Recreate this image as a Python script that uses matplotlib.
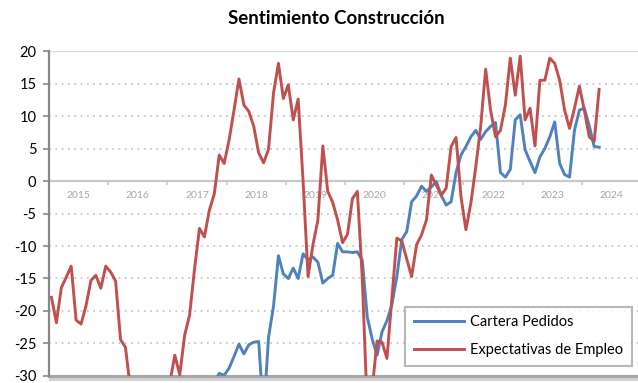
import matplotlib
matplotlib.use("Agg")
import matplotlib.pyplot as plt
import matplotlib.patheffects as pe
import numpy as np

plt.rcParams['font.family'] = ['Lato', 'DejaVu Sans']

# monthly series, first value = Jan 2015 (expectativas) / Oct 2017 (cartera)
expectativas = [
    -17.9, -21.8, -16.4, -14.8, -13.1, -21.4, -22.0, -19.2, -15.3, -14.5, -16.5, -13.1,
    -14.0, -15.4, -24.4, -25.6, -32.0, -35.0, -38.0, -40.0, -39.0, -37.0, -35.0, -33.0,
    -31.0, -26.8, -29.8, -23.7, -20.6, -13.5, -7.3, -8.6, -4.5, -2.0, 4.0, 2.7,
    6.3, 10.9, 15.7, 11.7, 10.7, 8.4, 4.3, 2.8, 4.9, 13.5, 18.1, 12.7,
    14.8, 9.4, 12.6, 0.0, -14.7, -9.8, -6.0, 5.4, -1.6, -3.3, -6.0, -9.5,
    -8.2, -2.7, -1.6, -15.0, -35.0, -32.0, -24.6, -24.8, -27.3, -18.0, -8.8, -9.2,
    -12.0, -14.7, -9.8, -8.3, -6.0, 0.9, -0.6, -2.2, -1.1, 5.3, 6.7, -2.4,
    -7.5, -3.4, 2.2, 8.4, 17.2, 10.9, 6.8, 7.8, 11.7, 18.9, 13.2, 19.2,
    9.4, 11.2, 5.4, 15.5, 15.5, 18.9, 18.1, 15.5, 10.9, 8.1, 11.2, 14.6,
    10.9, 6.8, 6.1, 14.1,
]
cartera = [
    -31.0, -29.6, -29.9, -28.8, -27.0, -25.1, -26.6, -25.2, -24.8, -24.7, -36.0, -24.0,
    -19.3, -11.5, -14.3, -15.0, -13.4, -15.0, -11.2, -12.1, -11.7, -12.5, -15.7, -15.0,
    -14.5, -9.6, -10.9, -10.9, -11.0, -10.9, -12.2, -20.9, -24.3, -26.8, -23.2, -21.5,
    -19.0, -14.7, -9.0, -7.8, -3.2, -2.3, -0.8, -1.6, -0.9, -0.1, -2.2, -3.7,
    -3.2, 1.3, 4.0, 5.3, 6.8, 7.8, 6.4, 7.6, 8.4, 9.0, 1.3, 0.6,
    1.8, 9.4, 10.2, 4.8, 3.0, 1.3, 3.7, 5.0, 6.8, 9.1, 2.7, 1.0,
    0.6, 7.8, 10.9, 11.2, 8.5, 5.3, 5.2,
]
cartera_offset = 33  # months after Jan 2015

years = list(range(2015, 2025))
y_ticks = list(range(-30, 25, 5))

blue = '#4F81BD'
red = '#C0504D'


def month_pos(n, offset=0):
    return 2015 + (np.arange(n) + offset + 0.5) / 12


fig = plt.figure(figsize=(6.38, 3.83), dpi=100)
ax = fig.add_axes([0.0768, 0.0183, 0.928, 0.8485])

ax.set_xlim(2015, 2025)
ax.set_ylim(-30, 20)

# dotted gridlines
for v in y_ticks:
    if v in (-30, 0):
        continue
    if v == 20:
        ax.axhline(v, color='#d9d9d9', lw=1.6, zorder=1)
    else:
        ax.axhline(v, color='#c8c8c8', lw=1.3, ls=(0, (1, 2.5)), zorder=1)

# bottom border with a soft shadow
ax.axhline(-30, color='#a6a6a6', lw=2.2, zorder=1, clip_on=False,
           path_effects=[pe.SimpleLineShadow(offset=(1, -2.5), shadow_color='gray', alpha=0.35),
                         pe.Normal()])

# zero line carries the year axis
for s in ('top', 'right'):
    ax.spines[s].set_visible(False)
ax.spines['bottom'].set_position(('data', 0))
ax.spines['bottom'].set_color('#c8c8c8')
ax.spines['bottom'].set_linewidth(1.6)
ax.spines['bottom'].set_zorder(1)
ax.spines['left'].set_color('#888888')
ax.spines['left'].set_linewidth(1.6)

ax.set_xticks(years + [2025])
ax.set_xticklabels([])
ax.tick_params(axis='x', which='major', direction='out', length=3, width=1.2, color='#c8c8c8')
ax.set_xticks([y + 0.5 for y in years], minor=True)
ax.set_xticklabels([str(y) for y in years], minor=True)
ax.tick_params(axis='x', which='minor', length=0, pad=7, labelsize=7.5, labelcolor='#a6a6a6')

ax.set_yticks(y_ticks)
ax.set_yticklabels([str(v) for v in y_ticks])
ax.tick_params(axis='y', direction='out', length=4, width=1.2, color='#888888',
               labelsize=10.5, labelcolor='black', pad=5)

ax.plot(month_pos(len(cartera), cartera_offset), cartera, color=blue, lw=2.1,
        label='Cartera Pedidos', zorder=3)
ax.plot(month_pos(len(expectativas)), expectativas, color=red, lw=2.1,
        label='Expectativas de Empleo', zorder=4)

leg = ax.legend(loc='lower right', bbox_to_anchor=(0.985, 0.031), borderaxespad=0,
                fontsize=10.5, frameon=True, fancybox=False, handlelength=3.4,
                handletextpad=0.45, labelspacing=0.95, borderpad=0.6)
leg.get_frame().set_edgecolor('#a6a6a6')
leg.get_frame().set_linewidth(1.5)
leg.set_zorder(5)

fig.text(0.527, 0.953, 'Sentimiento Construcción', ha='center', va='center',
         fontsize=13.5, fontweight='bold')

fig.savefig('out.png', dpi=100)
